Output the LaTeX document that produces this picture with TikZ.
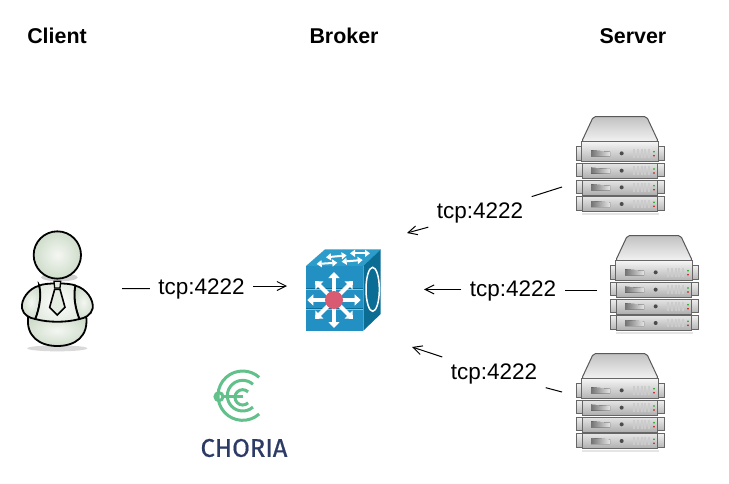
\documentclass[tikz,border=0pt]{standalone}
\usepackage{fontspec}
\setmainfont{Liberation Sans}
\newfontfamily\logofont[FakeBold=0.6]{Fira Sans}
\usetikzlibrary{arrows.meta,positioning}
\definecolor{cubefront}{HTML}{2390C3}
\definecolor{cubetop}{HTML}{2C9CCB}
\definecolor{cubeside}{HTML}{0B6C94}
\definecolor{cubehub}{HTML}{D95B72}
\definecolor{logogreen}{HTML}{62C08A}
\definecolor{logoblue}{HTML}{2C3A66}
\definecolor{skinlight}{HTML}{F4F7F2}
\definecolor{skindark}{HTML}{CFDCCB}
\tikzset{
  heading/.style={font=\fontsize{21.4}{24}\bfseries\selectfont},
  portlabel/.style={font=\fontsize{22.5}{24}\selectfont, minimum width=103, minimum height=36, inner sep=0},
  link/.style={line width=1pt, black},
  linkhead/.style={link, -{Straight Barb[length=9pt,width=9pt]}},
  rackunit/.style={draw=black!60, line width=1pt, top color=black!10, bottom color=black!32},
  skin/.style={draw=black, line width=1.8pt, inner color=skinlight, outer color=skindark},
  server/.pic={
    \begin{scope}[scale=1/3]
      % Shadow
      \fill[black!10] (50,323) rectangle (282,329);
      % Ears
      \foreach \yy in {125,175,225,275} {
        \draw[rackunit, top color=black!6, bottom color=black!28] (35,\yy) rectangle (56,\yy+40);
        \draw[rackunit, top color=black!6, bottom color=black!28] (277,\yy) rectangle (298,\yy+40);
      }
      % Lid
      \draw[draw=black!65, line width=1pt, rounded corners=2, top color=black!24, bottom color=black!5]
        (85,35) -- (245,35) -- (280,110) -- (50,110) -- cycle;
      \draw[rackunit, top color=black!4, bottom color=black!30] (50,110) rectangle (280,170);
      \foreach \yy in {175,225,275} {
        \draw[rackunit] (52,\yy) rectangle (278,\yy+45);
      }
      % Front details
      \foreach \yy in {145,197,247,297} {
        \fill[left color=black!55, right color=black!10] (78,\yy-9) -- (135,\yy-5) -- (135,\yy+9) -- (78,\yy+9) -- cycle;
        \fill[black!70] (170,\yy) circle (6);
        \foreach \xx in {205,216,227,238,249} {
          \fill[white!80!black] (\xx,\yy-13) rectangle (\xx+6,\yy+13);
        }
        \fill[green!65!black] (267,\yy-5) circle (2.6);
        \fill[red!80!black] (267,\yy+7) circle (2.6);
      }
    \end{scope}
  },
  client/.pic={
    \begin{scope}[scale=1/3]
      % Shadow
      \fill[black!15] (172,385) ellipse (90 and 9);
      \fill[black!18] (178,172) ellipse (55 and 12);
      % Lower body
      \draw[skin] (85,285) .. controls (75,350) and (120,378) .. (172,378)
        .. controls (225,378) and (268,350) .. (258,285) -- cycle;
      % Arms
      \draw[skin] (118,197) .. controls (85,205) and (62,240) .. (66,265)
        .. controls (70,285) and (90,295) .. (106,297)
        .. controls (118,265) and (125,230) .. cycle;
      \draw[skin] (226,197) .. controls (259,205) and (282,240) .. (278,265)
        .. controls (274,285) and (254,295) .. (238,297)
        .. controls (226,265) and (219,230) .. cycle;
      % Torso
      \draw[skin, inner color=white, outer color=skinlight!60!skindark] (118,197) .. controls (130,188) and (214,188) .. (226,197)
        .. controls (219,230) and (226,265) .. (238,297)
        .. controls (200,308) and (144,308) .. (106,297)
        .. controls (118,265) and (125,230) .. cycle;
      % Tie
      \draw[black, line width=1.3pt, fill=skinlight!60!skindark] (162,184) -- (182,184) -- (180,204) -- (164,204) -- cycle;
      \draw[black, line width=1.6pt, fill=skinlight!60!skindark] (164,208) -- (180,208) -- (195,262) -- (172,285) -- (149,262) -- cycle;
      % Head
      \draw[skin] (172,105) circle (71);
    \end{scope}
  },
  broker/.pic={
    \begin{scope}[scale=1/3]
      \fill[cubetop] (48,78) -- (105,28) -- (272,28) -- (220,78) -- cycle;
      \fill[cubeside] (220,78) -- (272,28) -- (272,222) -- (220,272) -- cycle;
      \fill[cubefront] (48,78) rectangle (220,272);
      % Front bands
      \draw[cubetop!60!white, line width=0.8pt] (48,147) -- (220,147);
      \draw[cubetop!60!white, line width=0.8pt] (48,207) -- (220,207);
      \draw[cubeside, line width=0.8pt] (48,145) -- (220,145);
      \draw[cubeside, line width=0.8pt] (48,205) -- (220,205);
      % Top arrows
      \foreach \xa/\ya/\xb/\yb in {108/52/170/46, 180/40/240/40, 80/72/142/68, 155/65/218/60} {
        \draw[white, line width=2pt, {Triangle[length=5pt,width=7pt]}-{Triangle[length=5pt,width=7pt]}] (\xa,\ya) -- (\xb,\yb);
      }
      % Side ring
      \draw[white, line width=1.5pt] (248,148) ellipse (20 and 66);
      % Hub arrows
      \foreach \aa/\ll in {0/80,45/80,90/84,135/80,180/80,225/80,270/84,315/80} {
        \draw[white, line width=4pt, -{Triangle[length=6pt,width=11pt]}] (132,180) -- ++(\aa:\ll);
      }
      \fill[cubehub] (132,180) circle (27);
    \end{scope}
  },
  choria/.pic={
    \begin{scope}[scale=1/3, logogreen, line width=3pt]
      \draw (158,107) ++(48:74) arc[start angle=48, end angle=312, radius=74];
      \draw (158,107) ++(48:46) arc[start angle=48, end angle=312, radius=46];
      \draw (158,112) ++(45:23) arc[start angle=45, end angle=315, radius=23];
      \draw (87,110) circle (12);
      \draw (99,110) -- (160,110);
    \end{scope}
  }
}
\begin{document}
\begin{tikzpicture}[x=1pt, y=-1pt]
    \useasboundingbox (0,0) rectangle (729,483);
    \fill[white] (0,0) rectangle (729,483);

    % Column titles
    \node[heading] (clienttitle) at (57,36) {Client};
    \node[heading] (brokertitle) at (344,36) {Broker};
    \node[heading] (servertitle) at (633,36) {Server};

    % Icons
    \pic at (0,220) {client};
    \pic at (290,240) {broker};
    \pic at (565,105) {server};
    \pic at (599,224) {server};
    \pic at (565,342) {server};

    % Logo
    \pic at (190,360) {choria};
    \node[font=\fontsize{25.5}{28}\logofont\selectfont, text=logoblue] (choriatext) at (244,448) {CHORIA};

    % Ends of the links
    \coordinate (clientport) at (122,288.6);
    \coordinate (brokerleft) at (287,286);
    \coordinate (serverone) at (562,187);
    \coordinate (brokerupper) at (407,233);
    \coordinate (servertwo) at (597,290.4);
    \coordinate (brokerright) at (424,289.4);
    \coordinate (serverthree) at (562,392);
    \coordinate (brokerlower) at (412,347);

    % Labels
    \node[portlabel] (tcpclient) at (201.5,289) {tcp:4222};
    \node[portlabel] (tcpone) at (480,213) {tcp:4222};
    \node[portlabel] (tcptwo) at (513,291) {tcp:4222};
    \node[portlabel] (tcpthree) at (494,374) {tcp:4222};

    % Links
    \draw[link] (clientport) -- (tcpclient);
    \draw[linkhead] (tcpclient.east |- brokerleft) -- (brokerleft);
    \draw[link] (servertwo) -- (tcptwo.east |- servertwo);
    \draw[linkhead] (tcptwo.west |- brokerright) -- (brokerright);
    \draw[link] (serverone) -- (tcpone);
    \draw[linkhead] (tcpone) -- (brokerupper);
    \draw[link] (serverthree) -- (tcpthree);
    \draw[linkhead] (tcpthree) -- (brokerlower);
\end{tikzpicture}
\end{document}
